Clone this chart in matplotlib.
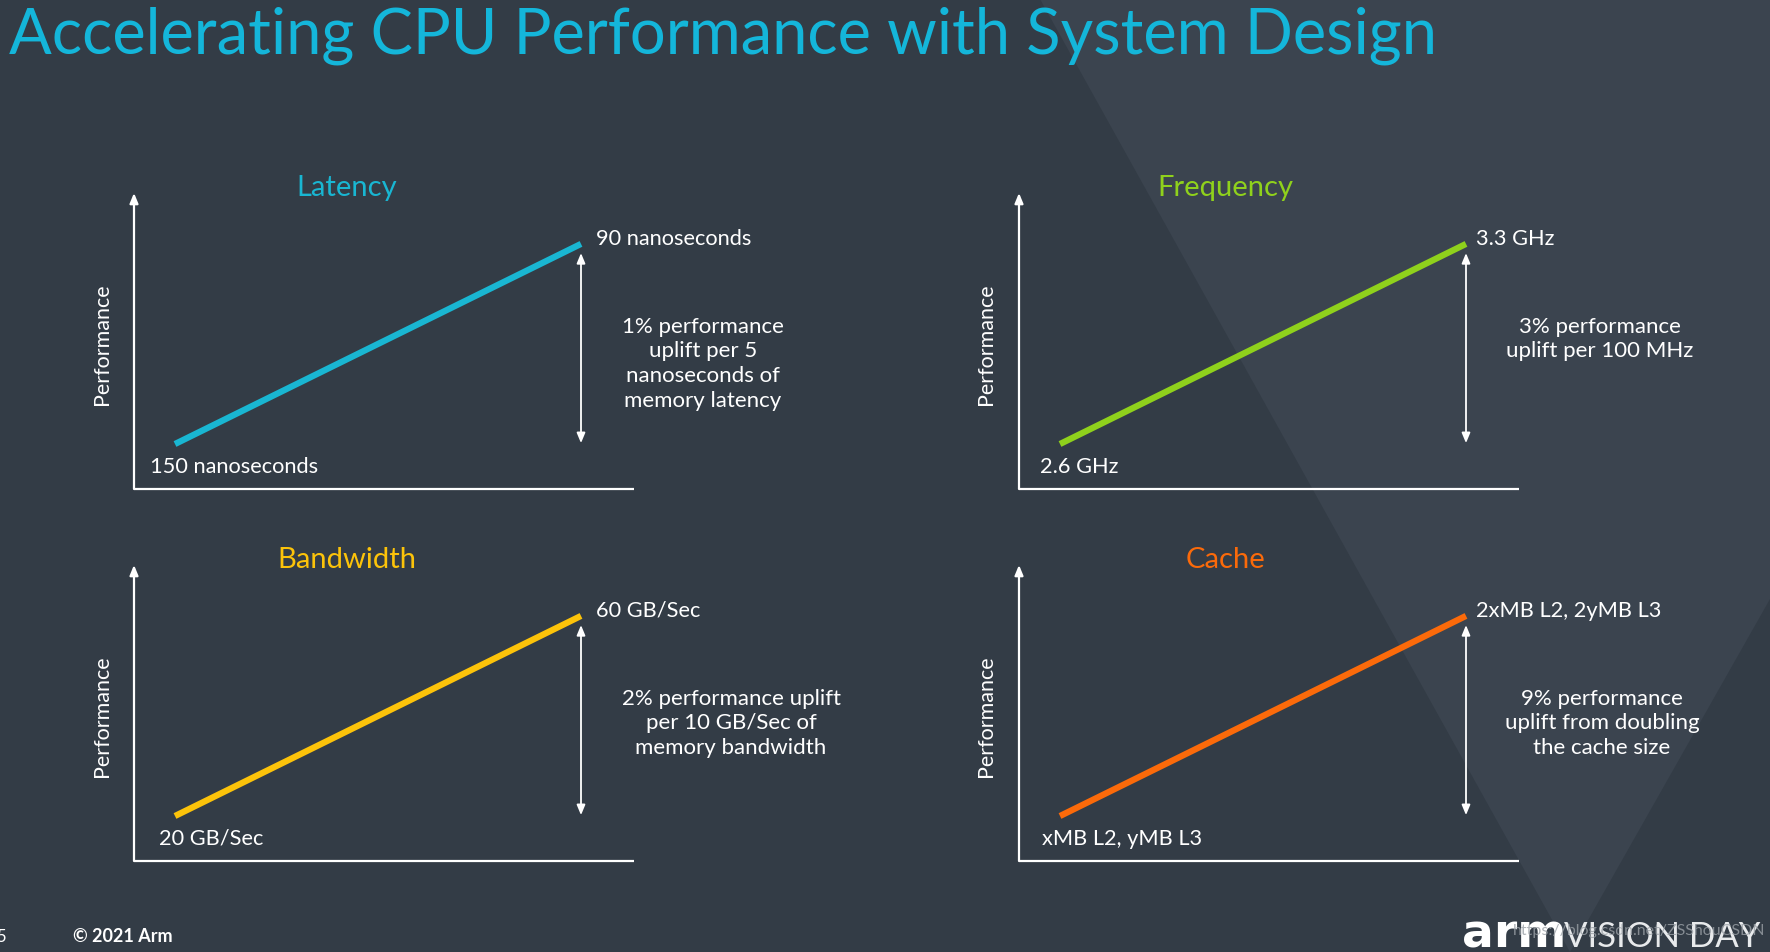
import matplotlib
matplotlib.use("Agg")
from matplotlib import pyplot as plt
from matplotlib.patches import Polygon

# chart content
panel_titles = ["Latency", "Frequency", "Bandwidth", "Cache"]
panel_colors = ["#19b6d2", "#8fd11c", "#fcc30a", "#fb6a0a"]
low_labels = ["150 nanoseconds", "2.6 GHz", "20 GB/Sec", "xMB L2, yMB L3"]
high_labels = ["90 nanoseconds", "3.3 GHz", "60 GB/Sec", "2xMB L2, 2yMB L3"]
notes = [
    "1% performance\nuplift per 5\nnanoseconds of\nmemory latency",
    "3% performance\nuplift per 100 MHz",
    "2% performance uplift\nper 10 GB/Sec of\nmemory bandwidth",
    "9% performance\nuplift from doubling\nthe cache size",
]
# schematic performance line (same for every panel), in axis units
perf_x = [0.082, 0.894]
perf_y = [0.152, 0.828]

BG = "#333c46"
FONT = ["Lato", "DejaVu Sans"]
plt.rcParams["font.family"] = FONT

W, H = 1770, 953
fig = plt.figure(figsize=(W / 100, H / 100), dpi=100, facecolor=BG)

# background shapes
bg = fig.add_axes([0, 0, 1, 1])
bg.set_xlim(0, W)
bg.set_ylim(H, 0)
bg.axis("off")
bg.add_patch(Polygon([(1040, 0), (W, 0), (W, 600), (1570, 953)], closed=True,
                     facecolor="#3b444f", edgecolor="none"))

fig.text(9 / W, 1 - 36 / H, "Accelerating CPU Performance with System Design",
         color="#14b6da", fontsize=45.5, va="center", ha="left")

lefts = [134, 1019, 134, 1019]
bottoms = [490, 490, 862, 862]
title_x = [0.425, 0.413, 0.425, 0.413]
note_x = [1.138, 1.161, 1.194, 1.166]
low_x = [0.032, 0.042, 0.05, 0.046]
high_x = [0.924, 0.913, 0.924, 0.915]

for i in range(4):
    ax = fig.add_axes([lefts[i] / W, 1 - bottoms[i] / H, 500 / W, 296 / H])
    ax.set_xlim(0, 1)
    ax.set_ylim(0, 1)
    ax.axis("off")
    ax.patch.set_visible(False)
    # axes
    ax.annotate("", xy=(0, 1), xytext=(0, 0), xycoords="axes fraction",
                arrowprops=dict(arrowstyle="-|>,head_length=0.6,head_width=0.25",
                                color="white", lw=1.6, shrinkA=0, shrinkB=0))
    ax.plot([0, 1], [0, 0], color="white", lw=1.6, transform=ax.transAxes,
            clip_on=False, solid_capstyle="butt")
    # trend line
    ax.plot(perf_x, perf_y, color=panel_colors[i], lw=4.5, solid_capstyle="butt")
    # uplift arrow
    ax.annotate("", xy=(perf_x[1], 0.797), xytext=(perf_x[1], 0.155),
                arrowprops=dict(arrowstyle="<|-|>,head_length=0.6,head_width=0.25",
                                color="white", lw=1.3, shrinkA=0, shrinkB=0))
    ax.text(title_x[i], 1.019, panel_titles[i], color=panel_colors[i], fontsize=21,
            ha="center", va="center", transform=ax.transAxes)
    ax.text(low_x[i], 0.078, low_labels[i], color="white", fontsize=15.7,
            ha="left", va="center", transform=ax.transAxes)
    ax.text(high_x[i], 0.848, high_labels[i], color="white", fontsize=15.7,
            ha="left", va="center", transform=ax.transAxes)
    ax.text(note_x[i], 0.586, notes[i], color="white", fontsize=16,
            ha="center", va="top", linespacing=1.3, transform=ax.transAxes)
    ax.text(-0.065, 0.493, "Performance", color="white", fontsize=15.5,
            rotation=90, ha="center", va="center", transform=ax.transAxes)

# footer
fig.text(-4 / W, 1 - 937 / H, "5", color="white", fontsize=12, va="center")
fig.text(73 / W, 1 - 937 / H, "\u00a9 2021 Arm", color="white", fontsize=13,
         va="center", fontweight="bold")
fig.text(1462 / W, 1 - 935 / H, "arm", color="white", fontsize=34,
         va="center", fontweight="black", family=["DejaVu Sans"])
fig.text(1564 / W, 1 - 937 / H, "VISION DAY", color="#e8eaec", fontsize=25,
         va="center", fontweight="normal")
fig.text(1513 / W, 1 - 931 / H, "https://blog.csdn.net/ZSShouCSDN", color="#9aa0a6",
         alpha=0.8, fontsize=11.5, va="center")

fig.savefig("out.png", dpi=100, facecolor=BG)
